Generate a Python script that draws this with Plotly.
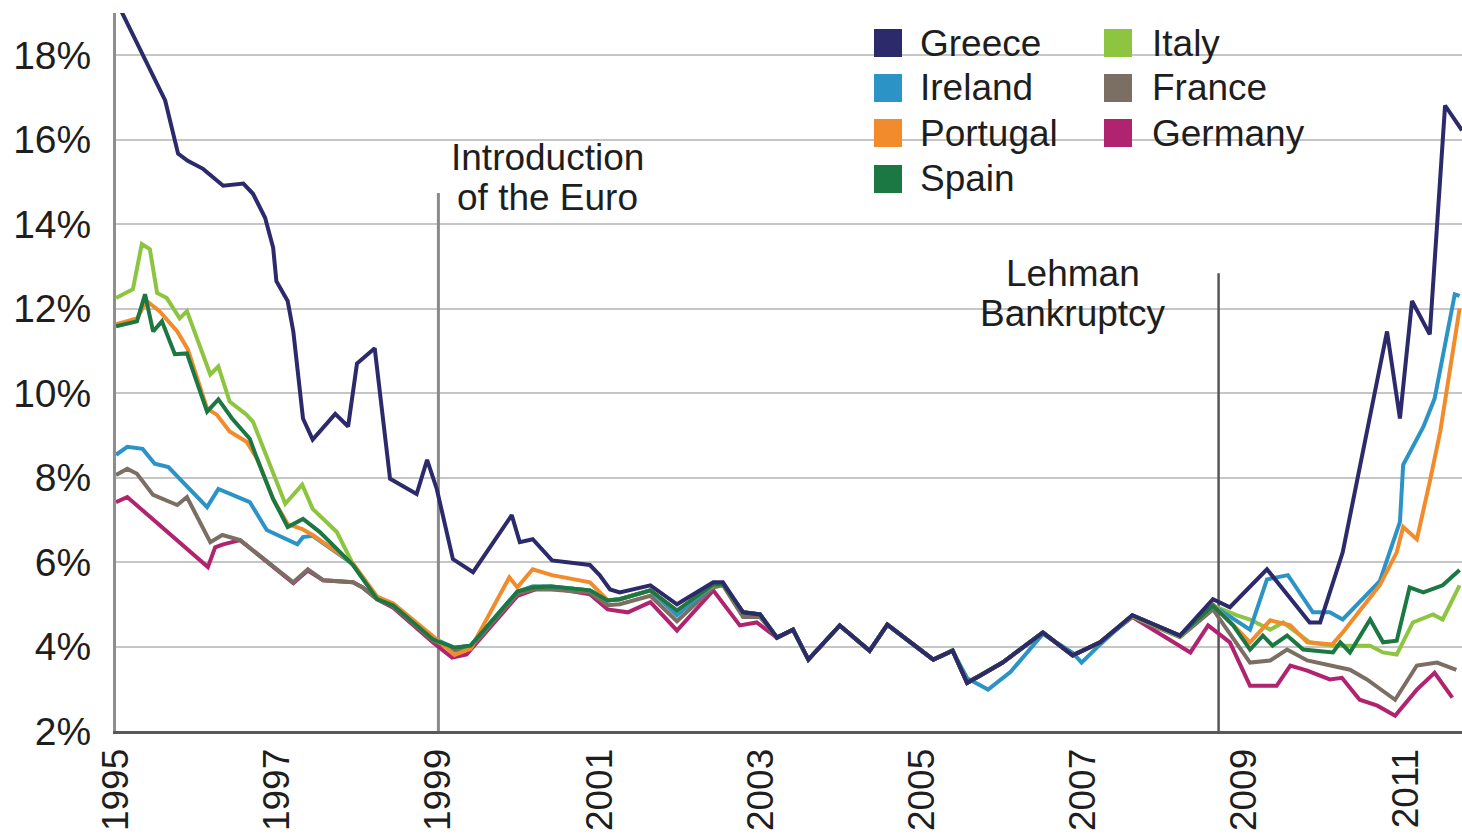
import plotly.graph_objects as go

# ---------------- data (decimal year, yield in %) ----------------
greece_t = [1995.00, 1995.61, 1995.77, 1995.89, 1996.08, 1996.33, 1996.58, 1996.70, 1996.85, 1996.95,
            1996.99, 1997.13, 1997.20, 1997.28, 1997.32, 1997.44, 1997.72, 1997.88, 1997.99, 1998.21,
            1998.30, 1998.40, 1998.73, 1998.86, 1998.98, 1999.18, 1999.43, 1999.91, 2000.01, 2000.17,
            2000.41, 2000.88, 2001.00, 2001.13, 2001.25, 2001.63, 2001.96, 2002.41, 2002.53, 2002.78,
            2002.99, 2003.20, 2003.40, 2003.59, 2003.98, 2004.35, 2004.57, 2005.14, 2005.38, 2005.56,
            2005.72, 2006.00, 2006.50, 2006.87, 2007.21, 2007.61, 2008.20, 2008.61, 2008.82, 2009.28,
            2009.81, 2009.94, 2010.22, 2010.77, 2010.93, 2011.08, 2011.30, 2011.49, 2011.70]
greece_v = [19.30, 16.93, 15.67, 15.50, 15.31, 14.91, 14.96, 14.72, 14.15, 13.44,
            12.65, 12.18, 11.46, 10.11, 9.40, 8.90, 9.51, 9.21, 10.70, 11.06,
            9.63, 7.97, 7.61, 8.42, 7.73, 6.07, 5.76, 7.11, 6.47, 6.54,
            6.04, 5.93, 5.69, 5.35, 5.28, 5.45, 5.00, 5.52, 5.52, 4.81,
            4.76, 4.21, 4.40, 3.69, 4.50, 3.90, 4.52, 3.69, 3.90, 3.14,
            3.31, 3.62, 4.33, 3.79, 4.10, 4.74, 4.26, 5.12, 4.93, 5.83,
            4.57, 4.57, 6.23, 11.46, 9.40, 12.18, 11.39, 16.81, 16.22]

spain_t = [1995.00, 1995.26, 1995.36, 1995.46, 1995.57, 1995.73, 1995.88, 1996.13, 1996.27, 1996.44,
           1996.66, 1996.75, 1996.95, 1997.13, 1997.32, 1997.53, 1997.94, 1998.24, 1998.44, 1998.93,
           1999.20, 1999.40, 1999.98, 2000.17, 2000.40, 2000.88, 2001.10, 2001.25, 2001.63, 2001.96,
           2002.41, 2002.53, 2002.78, 2002.99, 2003.20, 2003.40, 2003.59, 2003.98, 2004.35, 2004.57,
           2005.14, 2005.38, 2005.56, 2005.72, 2006.00, 2006.50, 2006.87, 2007.21, 2007.61, 2008.20,
           2008.61, 2008.86, 2009.07, 2009.23, 2009.35, 2009.53, 2009.73, 2010.10, 2010.19, 2010.31,
           2010.56, 2010.72, 2010.89, 2011.05, 2011.22, 2011.46, 2011.67]
spain_v = [11.58, 11.70, 12.34, 11.46, 11.70, 10.92, 10.94, 9.56, 9.85, 9.40,
           8.92, 8.45, 7.49, 6.83, 7.02, 6.71, 5.93, 5.12, 4.97, 4.17,
           3.97, 4.02, 5.30, 5.40, 5.42, 5.33, 5.09, 5.12, 5.33, 4.85,
           5.47, 5.47, 4.81, 4.76, 4.21, 4.40, 3.69, 4.50, 3.90, 4.52,
           3.69, 3.90, 3.14, 3.31, 3.62, 4.33, 3.79, 4.10, 4.74, 4.26,
           4.97, 4.50, 3.93, 4.26, 4.02, 4.26, 3.93, 3.86, 4.10, 3.86,
           4.64, 4.10, 4.14, 5.40, 5.28, 5.45, 5.81]

italy_t = [1995.00, 1995.21, 1995.32, 1995.42, 1995.51, 1995.63, 1995.79, 1995.88, 1996.17, 1996.27,
           1996.41, 1996.62, 1996.70, 1997.10, 1997.31, 1997.44, 1997.74, 1997.94, 1998.24, 1998.44,
           1998.93, 1999.20, 1999.40, 1999.98, 2000.17, 2000.40, 2000.88, 2001.10, 2001.25, 2001.63,
           2001.96, 2002.41, 2002.53, 2002.78, 2002.99, 2003.20, 2003.40, 2003.59, 2003.98, 2004.35,
           2004.57, 2005.14, 2005.38, 2005.56, 2005.72, 2006.00, 2006.50, 2006.87, 2007.21, 2007.61,
           2008.20, 2008.61, 2008.91, 2009.07, 2009.32, 2009.48, 2009.65, 2009.81, 2010.10, 2010.56,
           2010.72, 2010.89, 2011.09, 2011.34, 2011.46, 2011.67]
italy_v = [12.25, 12.46, 13.53, 13.41, 12.37, 12.25, 11.77, 11.94, 10.44, 10.63,
           9.80, 9.49, 9.32, 7.38, 7.83, 7.26, 6.71, 5.95, 5.15, 4.98,
           4.17, 3.97, 4.02, 5.30, 5.42, 5.42, 5.33, 5.09, 5.12, 5.33,
           4.82, 5.45, 5.47, 4.81, 4.76, 4.21, 4.40, 3.69, 4.50, 3.90,
           4.52, 3.69, 3.92, 3.16, 3.31, 3.62, 4.33, 3.79, 4.10, 4.72,
           4.24, 4.97, 4.74, 4.64, 4.40, 4.57, 4.33, 4.10, 4.02, 4.02,
           3.86, 3.81, 4.57, 4.76, 4.64, 5.45]

portugal_t = [1995.00, 1995.26, 1995.38, 1995.54, 1995.76, 1995.89, 1996.13, 1996.25, 1996.41, 1996.62,
              1996.75, 1996.95, 1997.13, 1997.31, 1997.44, 1997.94, 1998.24, 1998.44, 1998.93, 1999.20,
              1999.40, 1999.88, 1999.98, 2000.17, 2000.41, 2000.88, 2001.10, 2001.25, 2001.63, 2001.96,
              2002.41, 2002.53, 2002.78, 2002.99, 2003.20, 2003.40, 2003.59, 2003.98, 2004.35, 2004.57,
              2005.14, 2005.38, 2005.56, 2005.72, 2006.00, 2006.50, 2006.87, 2007.21, 2007.61, 2008.20,
              2008.61, 2009.07, 2009.32, 2009.57, 2009.78, 2010.09, 2010.22, 2010.68, 2010.89, 2010.97,
              2011.14, 2011.30, 2011.43, 2011.67]
portugal_v = [11.63, 11.77, 12.18, 11.94, 11.46, 11.04, 9.63, 9.49, 9.09, 8.85,
              8.45, 7.49, 6.90, 6.78, 6.64, 5.97, 5.18, 5.02, 4.25, 3.80,
              3.95, 5.64, 5.40, 5.83, 5.69, 5.52, 5.10, 5.12, 5.33, 4.85,
              5.47, 5.47, 4.81, 4.76, 4.21, 4.40, 3.69, 4.50, 3.90, 4.52,
              3.69, 3.90, 3.14, 3.31, 3.62, 4.33, 3.79, 4.10, 4.74, 4.26,
              5.00, 4.10, 4.62, 4.50, 4.10, 4.05, 4.33, 5.45, 6.23, 6.83,
              6.54, 7.90, 9.09, 12.00]

ireland_t = [1995.00, 1995.14, 1995.33, 1995.48, 1995.65, 1996.13, 1996.27, 1996.66, 1996.87, 1997.25,
             1997.32, 1997.44, 1997.94, 1998.24, 1998.44, 1998.93, 1999.20, 1999.40, 1999.98, 2000.17,
             2000.40, 2000.88, 2001.10, 2001.25, 2001.63, 2001.96, 2002.41, 2002.53, 2002.78, 2002.99,
             2003.20, 2003.40, 2003.59, 2003.98, 2004.35, 2004.57, 2005.14, 2005.38, 2005.56, 2005.82,
             2006.10, 2006.50, 2006.87, 2006.98, 2007.21, 2007.61, 2008.20, 2008.61, 2009.07, 2009.28,
             2009.54, 2009.85, 2010.06, 2010.22, 2010.68, 2010.93, 2010.97, 2011.22, 2011.36, 2011.61,
             2011.67]
ireland_v = [8.54, 8.73, 8.68, 8.33, 8.25, 7.30, 7.73, 7.42, 6.76, 6.42,
             6.59, 6.62, 5.95, 5.15, 4.98, 4.20, 3.97, 4.02, 5.30, 5.42,
             5.42, 5.33, 5.09, 5.12, 5.33, 4.74, 5.47, 5.47, 4.81, 4.76,
             4.21, 4.40, 3.69, 4.50, 3.90, 4.52, 3.69, 3.90, 3.25, 2.98,
             3.40, 4.30, 3.85, 3.62, 4.05, 4.74, 4.26, 4.97, 4.40, 5.59,
             5.69, 4.81, 4.81, 4.64, 5.55, 6.95, 8.30, 9.20, 9.87, 12.34,
             12.30]

france_t = [1995.00, 1995.14, 1995.26, 1995.46, 1995.76, 1995.88, 1996.17, 1996.32, 1996.54, 1997.20,
            1997.38, 1997.57, 1997.94, 1998.06, 1998.24, 1998.44, 1998.93, 1999.20, 1999.40, 1999.98,
            2000.17, 2000.40, 2000.88, 2001.10, 2001.25, 2001.63, 2001.96, 2002.41, 2002.53, 2002.78,
            2002.99, 2003.20, 2003.40, 2003.59, 2003.98, 2004.35, 2004.57, 2005.14, 2005.38, 2005.56,
            2005.72, 2006.00, 2006.50, 2006.87, 2007.21, 2007.61, 2008.20, 2008.61, 2009.07, 2009.32,
            2009.53, 2009.78, 2010.31, 2010.52, 2010.87, 2011.14, 2011.39, 2011.63]
france_v = [8.06, 8.21, 8.09, 7.59, 7.35, 7.54, 6.47, 6.64, 6.52, 5.52,
            5.83, 5.57, 5.52, 5.40, 5.12, 4.95, 4.15, 3.90, 3.97, 5.25,
            5.35, 5.35, 5.28, 4.98, 5.00, 5.20, 4.60, 5.40, 5.45, 4.70,
            4.70, 4.21, 4.40, 3.69, 4.50, 3.90, 4.52, 3.69, 3.90, 3.14,
            3.31, 3.62, 4.33, 3.79, 4.10, 4.70, 4.22, 4.88, 3.62, 3.67,
            3.93, 3.67, 3.45, 3.22, 2.74, 3.55, 3.62, 3.45]

germany_t = [1995.00, 1995.14, 1996.14, 1996.23, 1996.33, 1996.54, 1997.20, 1997.38, 1997.57, 1997.94,
             1998.06, 1998.24, 1998.44, 1998.93, 1999.17, 1999.35, 1999.98, 2000.30, 2000.88, 2001.10,
             2001.35, 2001.63, 2001.96, 2002.41, 2002.74, 2002.95, 2003.20, 2003.40, 2003.59, 2003.98,
             2004.35, 2004.57, 2005.14, 2005.38, 2005.56, 2005.72, 2006.00, 2006.50, 2006.87, 2007.21,
             2007.61, 2008.33, 2008.55, 2008.82, 2009.07, 2009.40, 2009.57, 2009.78, 2010.06, 2010.21,
             2010.43, 2010.65, 2010.87, 2011.14, 2011.36, 2011.58]
germany_v = [7.42, 7.54, 5.88, 6.35, 6.42, 6.52, 5.50, 5.80, 5.57, 5.52,
             5.40, 5.12, 4.92, 4.10, 3.74, 3.81, 5.20, 5.42, 5.24, 4.88,
             4.81, 5.05, 4.38, 5.33, 4.50, 4.57, 4.21, 4.40, 3.69, 4.50,
             3.90, 4.52, 3.69, 3.90, 3.14, 3.31, 3.62, 4.33, 3.79, 4.10,
             4.70, 3.86, 4.50, 4.10, 3.07, 3.07, 3.55, 3.43, 3.22, 3.26,
             2.74, 2.60, 2.36, 2.98, 3.38, 2.79]

x_ticks = [1995, 1997, 1999, 2001, 2003, 2005, 2007, 2009, 2011]
y_ticks = [2, 4, 6, 8, 10, 12, 14, 16, 18]

euro_date = 1999.0
lehman_date = 2008.68
euro_label = ["Introduction", "of the Euro"]
lehman_label = ["Lehman", "Bankruptcy"]

legend_col1 = ["Greece", "Ireland", "Portugal", "Spain"]
legend_col2 = ["Italy", "France", "Germany"]

colors = {
    "Greece": "#2d2a6c",
    "Ireland": "#2b93c6",
    "Portugal": "#f28b2c",
    "Spain": "#1b7842",
    "Italy": "#8dc540",
    "France": "#7b6e63",
    "Germany": "#b0246f",
}

series = {
    "Germany": (germany_t, germany_v),
    "France": (france_t, france_v),
    "Italy": (italy_t, italy_v),
    "Ireland": (ireland_t, ireland_v),
    "Portugal": (portugal_t, portugal_v),
    "Spain": (spain_t, spain_v),
    "Greece": (greece_t, greece_v),
}

# ---------------- layout geometry ----------------
W, H = 1462, 835
L, R, T, B = 116, 0, 13, 104
PW, PH = W - L - R, H - T - B
FONT = "Liberation Sans, Arial, Helvetica, sans-serif"
TXT = "#1e1e1e"


def px_x(p):
    return (p - L) / PW


def px_y(p):
    return (H - B - p) / PH


fig = go.Figure()
for name, (t, v) in series.items():
    fig.add_trace(go.Scatter(x=t, y=v, mode="lines", name=name,
                             line=dict(color=colors[name], width=4),
                             showlegend=False))

shapes = []
annotations = []

# event lines
shapes.append(dict(type="line", xref="x", yref="y", x0=euro_date, x1=euro_date,
                   y0=2, y1=14.74, line=dict(color="#8a8a8a", width=3), layer="between"))
shapes.append(dict(type="line", xref="x", yref="y", x0=lehman_date, x1=lehman_date,
                   y0=2, y1=12.84, line=dict(color="#575757", width=2.5), layer="between"))

# white box behind Lehman text
shapes.append(dict(type="rect", xref="paper", yref="paper", x0=px_x(955), x1=px_x(1191),
                   y0=px_y(335), y1=px_y(252), fillcolor="white", line=dict(width=0),
                   layer="between"))
# white legend box
shapes.append(dict(type="rect", xref="paper", yref="paper", x0=px_x(845), x1=px_x(1327),
                   y0=px_y(205), y1=px_y(14), fillcolor="white", line=dict(width=0),
                   layer="between"))

# annotation texts
for txt, cx, cy in [(euro_label[0], 547, 158), (euro_label[1], 547, 197),
                    (lehman_label[0], 1073, 273), (lehman_label[1], 1073, 313)]:
    annotations.append(dict(text=txt, xref="paper", yref="paper", x=px_x(cx), y=px_y(cy),
                            xanchor="center", yanchor="middle", showarrow=False,
                            font=dict(family=FONT, size=37, color=TXT)))

# manual legend with square swatches
row_y = [43, 88, 133, 179]
for col, (sw_x, tx_x) in zip([legend_col1, legend_col2], [(874, 918), (1104, 1150)]):
    for i, name in enumerate(col):
        cy = row_y[i]
        shapes.append(dict(type="rect", xref="paper", yref="paper",
                           x0=px_x(sw_x), x1=px_x(sw_x + 28), y0=px_y(cy + 14), y1=px_y(cy - 14),
                           fillcolor=colors[name], line=dict(width=0), layer="above"))
        annotations.append(dict(text=name, xref="paper", yref="paper", x=px_x(tx_x), y=px_y(cy),
                                xanchor="left", yanchor="middle", showarrow=False,
                                font=dict(family=FONT, size=37, color=TXT)))

fig.update_layout(
    width=W, height=H,
    margin=dict(l=L, r=R, t=T, b=B, pad=0, autoexpand=False),
    paper_bgcolor="white", plot_bgcolor="white",
    font=dict(family=FONT, color=TXT),
    showlegend=False,
    shapes=shapes,
    annotations=annotations,
    xaxis=dict(range=[1995, 2011.7], tickmode="array", tickvals=x_ticks,
               ticktext=[str(y) for y in x_ticks], tickangle=-90,
               tickfont=dict(family=FONT, size=37, color=TXT),
               showgrid=False, zeroline=False, showline=True, linecolor="#595959", linewidth=3,
               ticks="", ticklabelstandoff=0, automargin=False, fixedrange=True),
    yaxis=dict(range=[2, 19], tickmode="array", tickvals=y_ticks,
               ticktext=[f"{v}%" for v in y_ticks],
               tickfont=dict(family=FONT, size=39, color=TXT),
               showgrid=True, gridcolor="#c6c6c6", gridwidth=2, zeroline=False,
               showline=True, linecolor="#8e8e8e", linewidth=3,
               ticks="", ticklabelstandoff=14, automargin=False, fixedrange=True),
)

fig.write_html("out.html", config={"displayModeBar": False},
               post_script="document.body.style.margin='0';document.body.style.overflow='hidden';")
